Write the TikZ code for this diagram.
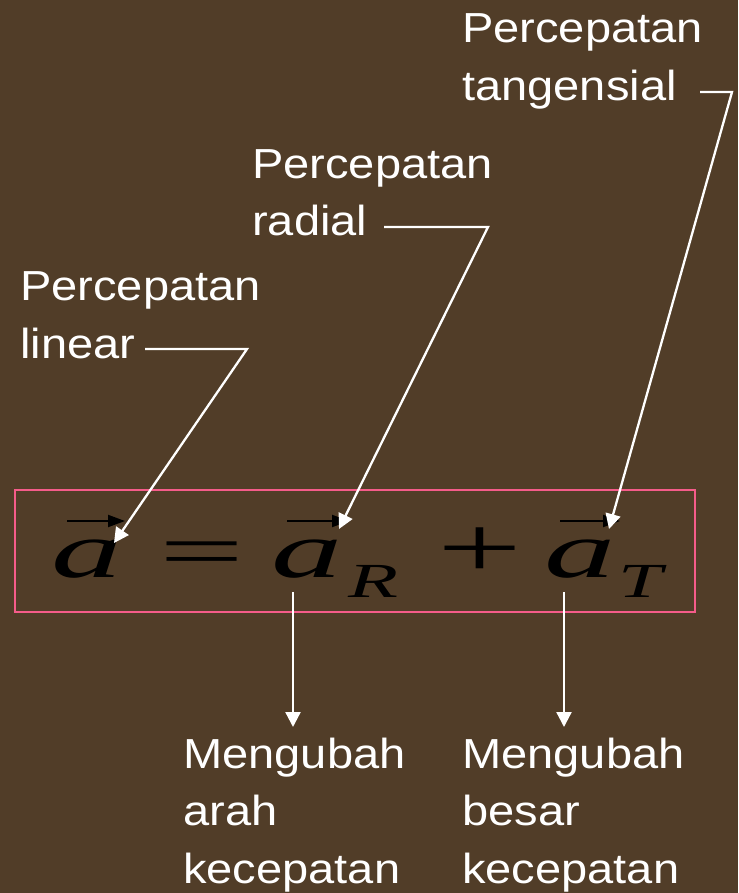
\documentclass[tikz,border=0pt]{standalone}
\usepackage{fontspec}
\setmainfont{Liberation Sans}[FakeStretch=1.12]
\newfontfamily\eqfont{Liberation Serif}
\usepackage{tikz}
\usetikzlibrary{arrows.meta, positioning}
\definecolor{mybrown}{RGB}{81,61,40}
\definecolor{mypink}{RGB}{245,92,138}
\tikzset{
  notetext/.style={anchor=base west, inner sep=0pt, align=left, text=white,
    font=\fontsize{42}{57.5}\selectfont},
  eqglyph/.style={anchor=base, inner sep=0pt, text=black},
  pointer/.style={-{Triangle[length=15pt, width=15pt]}, color=white, line width=2.3pt},
  vecarrow/.style={-{Triangle[length=17pt, width=12pt]}, color=black, line width=2pt},
  eqbox/.style={draw=mypink, line width=2.5pt}
}
\newcommand{\stretchglyph}[3]{\scalebox{#1}[1]{\eqfont\fontsize{#2}{#2}\selectfont #3}}

\begin{document}
\begin{tikzpicture}[x=1pt, y=-1pt]
  % Background
  \fill[mybrown] (0,0) rectangle (738,893);
  \useasboundingbox (0,0) rectangle (738,893);

  % Labels
  \node[notetext] (labeltan) at (462,100.5) {Percepatan\\tangensial};
  \node[notetext] (labelrad) at (252,236) {Percepatan\\radial};
  \node[notetext] (labellin) at (20,358) {Percepatan\\linear};
  \node[notetext] (labelarah) at (183,883) {Mengubah\\arah\\kecepatan};
  \node[notetext] (labelbesar) at (462,883) {Mengubah\\besar\\kecepatan};

  % Equation
  \draw[eqbox] (15,490) rectangle (695,612);
  \node[eqglyph] (veca) at (87,577) {\stretchglyph{1.78}{80}{\itshape a}};
  \node[eqglyph] (eqsign) at (202,577) {\stretchglyph{1.93}{78}{=}};
  \node[eqglyph] (vecaR) at (307,577) {\stretchglyph{1.78}{80}{\itshape a}};
  \node[eqglyph] (subR) at (373,597) {\stretchglyph{1.67}{49}{\itshape R}};
  \node[eqglyph] (plussign) at (480,577) {\stretchglyph{1.71}{88}{+}};
  \node[eqglyph] (vecaT) at (580,577) {\stretchglyph{1.78}{80}{\itshape a}};
  \node[eqglyph] (subT) at (640,597) {\stretchglyph{1.61}{49}{\itshape T}};

  % Vector arrows
  \draw[vecarrow] (67,521) -- (125,521);
  \draw[vecarrow] (287,521) -- (349,521);
  \draw[vecarrow] (560,521) -- (620,521);

  % Pointers
  \coordinate (linstart) at (145,349);
  \coordinate (linbend) at (247,349);
  \coordinate (lintip) at (114,543);
  \coordinate (radstart) at (384,227);
  \coordinate (radbend) at (488,227);
  \coordinate (radtip) at (339,529);
  \coordinate (tanstart) at (700,92);
  \coordinate (tanbend) at (732,92);
  \coordinate (tantip) at (609,529);
  \coordinate (arahstart) at (293,592);
  \coordinate (arahtip) at (293,727);
  \coordinate (besarstart) at (564,592);
  \coordinate (besartip) at (564,727);

  \draw[pointer] (linstart) -- (linbend) -- (lintip);
  \draw[pointer] (radstart) -- (radbend) -- (radtip);
  \draw[pointer] (tanstart) -- (tanbend) -- (tantip);
  \draw[pointer] (arahstart) -- (arahtip);
  \draw[pointer] (besarstart) -- (besartip);
\end{tikzpicture}
\end{document}
